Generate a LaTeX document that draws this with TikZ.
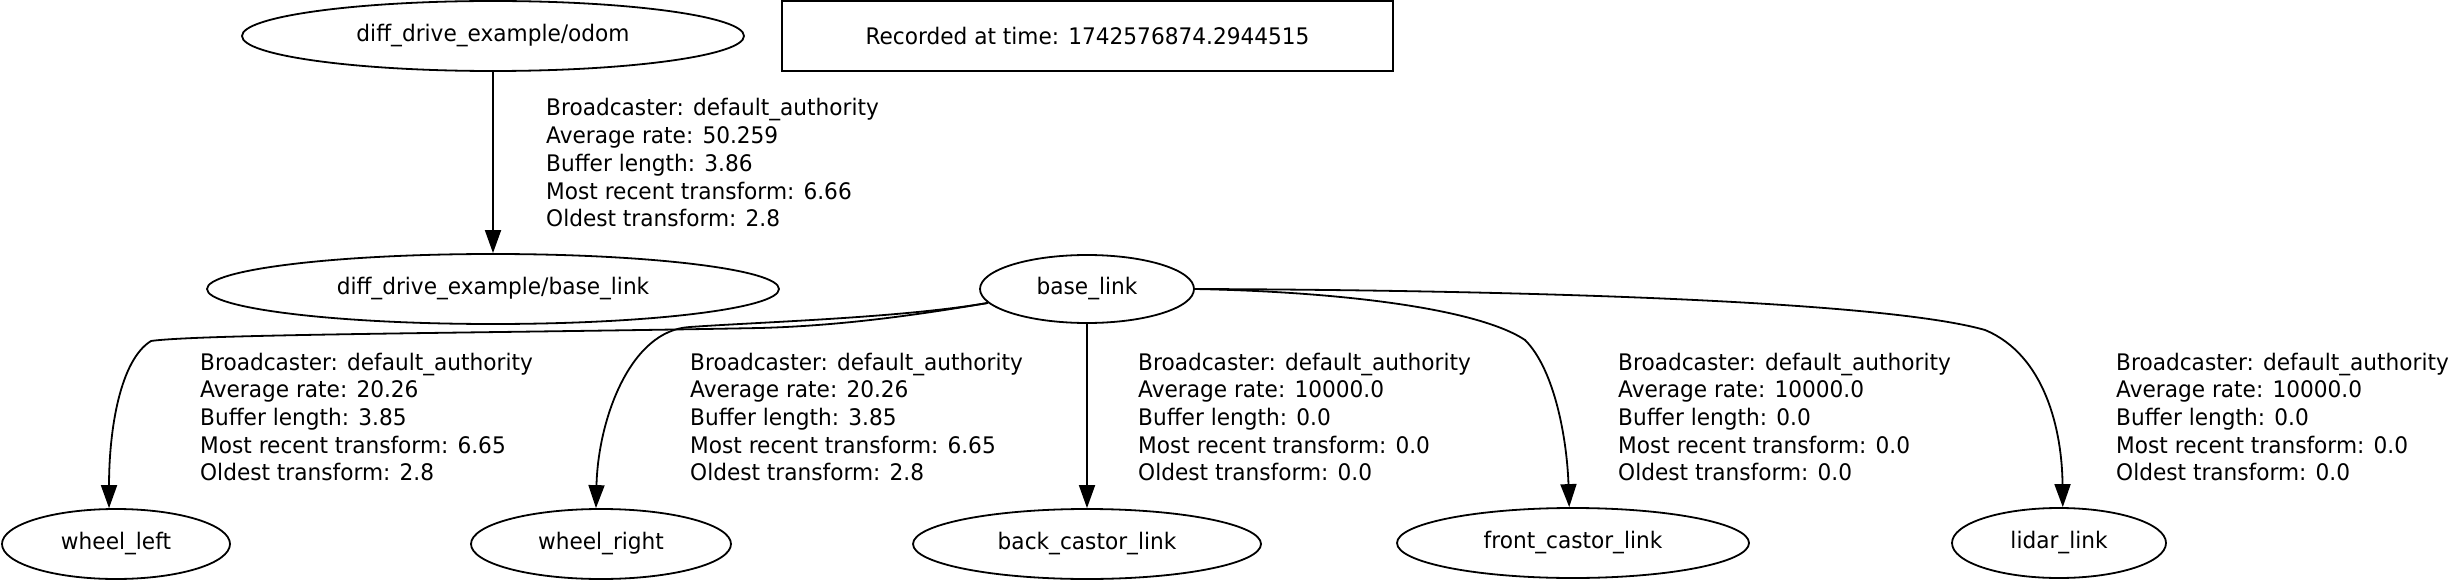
\documentclass[tikz,border=0pt]{standalone}
\usepackage{fontspec}
\newfontfamily\labfont[FakeStretch=0.95]{DejaVu Sans}
\usetikzlibrary{arrows.meta,shapes.geometric}
\newcommand\tflab[1]{\parbox[t]{400pt}{\raggedright\labfont\fontsize{22.8pt}{27.7pt}\selectfont #1}}
\begin{document}
\begin{tikzpicture}[x=1pt,y=-1pt,
  tffont/.style={font=\labfont\fontsize{22.8pt}{27.7pt}\selectfont},
  tfnode/.style={ellipse, draw, line width=1.8pt, inner sep=0pt, tffont},
  frame/.style={rectangle, draw, line width=1.8pt, inner sep=0pt, tffont},
  tfedge/.style={draw, line width=1.8pt, -{Triangle[length=23pt,width=16pt]}},
  tflabel/.style={anchor=base west, inner sep=0pt}]
\useasboundingbox (0,0) rectangle (2451,580);

\node[tfnode, minimum width=502pt, minimum height=70pt] (odom) at (493,36) {diff\_drive\_example/odom};
\node[frame, minimum width=611pt, minimum height=70pt] (rec) at (1087.5,36) {Recorded at time: 1742576874.2944515};
\node[tfnode, minimum width=572pt, minimum height=70pt] (ddb) at (493,289) {diff\_drive\_example/base\_link};
\node[tfnode, minimum width=214pt, minimum height=68pt] (bl) at (1087,289) {base\_link};
\node[tfnode, minimum width=228pt, minimum height=70pt] (wl) at (116,544) {wheel\_left};
\node[tfnode, minimum width=260pt, minimum height=70pt] (wr) at (601,544) {wheel\_right};
\node[tfnode, minimum width=348pt, minimum height=70pt] (bc) at (1087,544) {back\_castor\_link};
\node[tfnode, minimum width=352pt, minimum height=70pt] (fc) at (1573,543) {front\_castor\_link};
\node[tfnode, minimum width=214pt, minimum height=70pt] (ld) at (2059,543) {lidar\_link};

\draw[tfedge] (odom.south) -- (ddb.north);
\draw[tfedge] (bl.188) .. controls (900,318) and (830,326) .. (760,328) .. controls (500,333) and (200,334) .. (151,341) .. controls (120,360) and (109,430) .. (wl.101);
\draw[tfedge] (bl.188) .. controls (900,318) and (760,322) .. (690,327) .. controls (630,330) and (598,420) .. (wr.98);
\draw[tfedge] (bl.south) -- (bc.north);
\draw[tfedge] (bl.east) .. controls (1350,292) and (1480,310) .. (1525,340) .. controls (1555,370) and (1567,440) .. (fc.96);
\draw[tfedge] (bl.east) .. controls (1500,290) and (1880,300) .. (1985,330) .. controls (2045,355) and (2062,430) .. (ld.84);

\node[tflabel] (lodom) at (546,116) {\tflab{Broadcaster: default\_authority\\Average rate: 50.259\\Buffer length: 3.86\\Most recent transform: 6.66\\Oldest transform: 2.8}};
\node[tflabel] (lwl) at (200,370) {\tflab{Broadcaster: default\_authority\\Average rate: 20.26\\Buffer length: 3.85\\Most recent transform: 6.65\\Oldest transform: 2.8}};
\node[tflabel] (lwr) at (690,370) {\tflab{Broadcaster: default\_authority\\Average rate: 20.26\\Buffer length: 3.85\\Most recent transform: 6.65\\Oldest transform: 2.8}};
\node[tflabel] (lbc) at (1138,370) {\tflab{Broadcaster: default\_authority\\Average rate: 10000.0\\Buffer length: 0.0\\Most recent transform: 0.0\\Oldest transform: 0.0}};
\node[tflabel] (lfc) at (1618,370) {\tflab{Broadcaster: default\_authority\\Average rate: 10000.0\\Buffer length: 0.0\\Most recent transform: 0.0\\Oldest transform: 0.0}};
\node[tflabel] (lld) at (2116,370) {\tflab{Broadcaster: default\_authority\\Average rate: 10000.0\\Buffer length: 0.0\\Most recent transform: 0.0\\Oldest transform: 0.0}};
\end{tikzpicture}
\end{document}
